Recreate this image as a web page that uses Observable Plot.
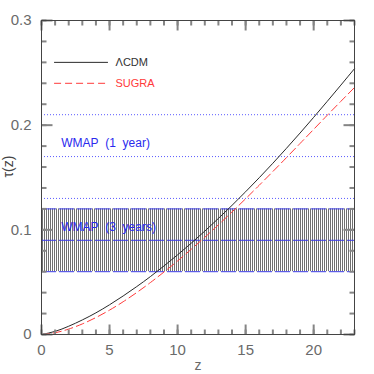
<!DOCTYPE html>
<html><head><meta charset="utf-8">
<script src="https://cdn.jsdelivr.net/npm/d3@7"></script>
<script src="https://cdn.jsdelivr.net/npm/@observablehq/plot@0.6"></script>
<style>html,body{margin:0;padding:0;background:#fff;} svg{display:block}</style>
</head><body><div id="chart"></div>
<script>
// ---- data ----
const zValues  = [0,1,2,3,4,5,6,7,8,9,10,11,12,13,14,15,16,17,18,19,20,21,22,23];
const tauLCDM  = [0,0.003,0.0079,0.0139,0.0207,0.0284,0.0368,0.0458,0.0553,0.0655,0.0761,0.0872,0.0988,0.1109,0.1234,0.1364,0.1498,0.1636,0.1779,0.1925,0.2075,0.2228,0.2383,0.254];
const tauSUGRA = [0,0.0017,0.0052,0.0101,0.0162,0.0233,0.0313,0.0401,0.0496,0.0597,0.0703,0.0814,0.0929,0.1048,0.1171,0.1297,0.1426,0.1557,0.169,0.1825,0.196,0.2095,0.2228,0.236];
const seriesNames  = ["\u039BCDM", "SUGRA"];
const wmap1Levels  = [0.13, 0.17, 0.21];   // WMAP 1 year: 0.17 ± 0.04
const wmap3Levels  = [0.06, 0.09, 0.12];   // WMAP 3 years: 0.09 ± 0.03
const wmapLabels   = ["WMAP\u00a0\u00a0(1\u00a0\u00a0year)", "WMAP\u00a0\u00a0(3\u00a0\u00a0years)"];
const xDomain      = [0, 23];
const yDomain      = [0, 0.3];
const xMajorTicks  = [0,5,10,15,20];
const xMinorTicks  = [0,1,2,3,4,5,6,7,8,9,10,11,12,13,14,15,16,17,18,19,20,21,22,23];
const yMajorTicks  = [0,0.1,0.2,0.3];
const yMinorTicks  = [0,0.02,0.04,0.06,0.08,0.1,0.12,0.14,0.16,0.18,0.2,0.22,0.24,0.26,0.28,0.3];
const yTickLabels  = ["0","0.1","0.2","0.3"];
const xTickLabels  = ["0","5","10","15","20"];
const xLabel = "z";
const yLabel = "\u03C4(z)";

// ---- tables built from the arrays ----
const lcdm  = zValues.map((z,i)=>({z, tau: tauLCDM[i]}));
const sugra = zValues.map((z,i)=>({z, tau: tauSUGRA[i]}));
const band  = [{x1: xDomain[0], x2: xDomain[1], y1: wmap3Levels[0], y2: wmap3Levels[2]}];
const legendLCDM  = [{x1: 0.96, x2: 4.92, y: 0.26,  label: seriesNames[0]}];
const legendSUGRA = [{x1: 0.96, x2: 4.92, y: 0.24,  label: seriesNames[1]}];
const wmapText = [{x: 1.45, y: 0.183, label: wmapLabels[0]}, {x: 1.45, y: 0.103, label: wmapLabels[1]}];

const W = 374, H = 374, mL = 41, mR = 20, mT = 20, mB = 40;
const innerW = W - mL - mR, innerH = H - mT - mB;
const black = "#2a2a2a", red = "#ff3a3a", blue1 = "#5a5aff", blue3 = "#3c3ce6", tickCol = "#858585", labelCol = "#6a6a6a";
const font = "Liberation Sans, Arial, sans-serif";

// inward tick marks as short links; tick length converted from pixels to data units
const xUnit = (xDomain[1] - xDomain[0]) / innerW;
const yUnit = (yDomain[1] - yDomain[0]) / innerH;
function yTickSegs(ticks, side, size) {
  const a = side === "left" ? xDomain[0] : xDomain[1];
  const b = side === "left" ? a + size * xUnit : a - size * xUnit;
  return ticks.map(t => ({xa: a, xb: b, ya: t, yb: t}));
}
function xTickSegs(ticks, side, size) {
  const a = side === "bottom" ? yDomain[0] : yDomain[1];
  const b = side === "bottom" ? a + size * yUnit : a - size * yUnit;
  return ticks.map(t => ({xa: t, xb: t, ya: a, yb: b}));
}
const tickSegs = [
  ...yTickSegs(yMinorTicks, "left", 5),   ...yTickSegs(yMajorTicks, "left", 11),
  ...yTickSegs(yMinorTicks, "right", 5),  ...yTickSegs(yMajorTicks, "right", 11),
  ...xTickSegs(xMinorTicks, "bottom", 5), ...xTickSegs(xMajorTicks, "bottom", 10),
  ...xTickSegs(xMinorTicks, "top", 5),    ...xTickSegs(xMajorTicks, "top", 10)
];

const plot = Plot.plot({
  width: W, height: H,
  marginLeft: mL, marginRight: mR, marginTop: mT, marginBottom: mB,
  style: {fontFamily: font, background: "#fff"},
  x: {domain: xDomain, axis: null},
  y: {domain: yDomain, axis: null},
  marks: [
    Plot.rect(band, {x1: "x1", x2: "x2", y1: "y1", y2: "y2", fill: "url(#hatch)"}),
    Plot.ruleY(wmap1Levels, {stroke: blue1, strokeWidth: 1, strokeDasharray: "1,2"}),
    Plot.ruleY(wmap3Levels, {stroke: blue3, strokeWidth: 1, strokeDasharray: "15,3"}),
    Plot.text(wmapText, {x: "x", y: "y", text: "label", fill: "#2a2aee", fontSize: 12, textAnchor: "start"}),
    Plot.line(lcdm,  {x: "z", y: "tau", stroke: black, strokeWidth: 1, curve: "natural"}),
    Plot.line(sugra, {x: "z", y: "tau", stroke: red, strokeWidth: 1, strokeDasharray: "8,4", curve: "natural"}),
    Plot.ruleY(legendLCDM,  {y: "y", x1: "x1", x2: "x2", stroke: black, strokeWidth: 1}),
    Plot.ruleY(legendSUGRA, {y: "y", x1: "x1", x2: "x2", stroke: red, strokeWidth: 1, strokeDasharray: "7,4"}),
    Plot.text(legendLCDM,  {x: 5.44, y: "y", text: "label", fill: "#333", fontSize: 11, textAnchor: "start"}),
    Plot.text(legendSUGRA, {x: 5.44, y: "y", text: "label", fill: red, fontSize: 11, textAnchor: "start"}),
    Plot.link(tickSegs, {x1: "xa", y1: "ya", x2: "xb", y2: "yb", stroke: tickCol, strokeWidth: 2}),
    Plot.axisY(yMajorTicks, {anchor: "left", tickSize: 0, tickPadding: 10, fontSize: 15, fill: labelCol, label: null,
      tickFormat: d => yTickLabels[yMajorTicks.indexOf(d)]}),
    Plot.axisX(xMajorTicks, {anchor: "bottom", tickSize: 0, tickPadding: 10, fontSize: 15, fill: labelCol, label: null,
      tickFormat: d => xTickLabels[xMajorTicks.indexOf(d)]}),
    Plot.text([xLabel], {frameAnchor: "bottom", text: d => d, dy: 35, fontSize: 14, fill: labelCol}),
    Plot.text([yLabel], {frameAnchor: "left", text: d => d, dx: -33, rotate: -90, fontSize: 14, fill: "#444"}),
    Plot.frame({stroke: "#444", strokeWidth: 1})
  ]
});

const svg = d3.select(plot);
const pat = svg.insert("defs", ":first-child").append("pattern")
  .attr("id", "hatch").attr("patternUnits", "userSpaceOnUse")
  .attr("width", 2).attr("height", 4);
pat.append("rect").attr("width", 2).attr("height", 4).attr("fill", "#fff");
pat.append("rect").attr("width", 1).attr("height", 4).attr("fill", "#707070");

document.getElementById("chart").appendChild(plot);
</script>
</body></html>
